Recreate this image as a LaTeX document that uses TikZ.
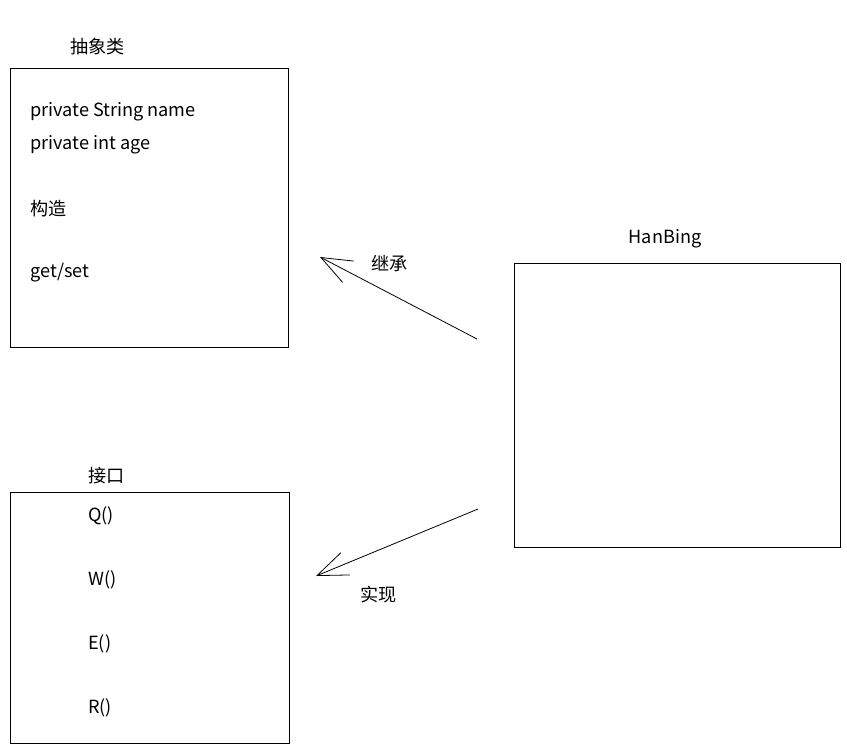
\documentclass[tikz,border=0pt]{standalone}
\usepackage{fontspec}
\setmainfont{Noto Sans CJK SC}
\usepackage{tikz}
\usetikzlibrary{arrows.meta, calc, positioning}

\begin{document}
\begin{tikzpicture}[x=0.75pt, y=-0.75pt,
	box/.style={draw, line width=0.75pt},
	txt/.style={anchor=west, inner sep=0pt, font=\fontsize{13.6}{16}\selectfont},
	link/.style={line width=0.6pt, -{Straight Barb[length=23pt, width=18pt, line width=0.6pt]}}]
	\useasboundingbox (0,0) rectangle (847,751);
	% Boxes
	\draw [box] (10,68) rectangle (288,347);
	\draw [box] (10,492) rectangle (289,743);
	\draw [box] (514,263) rectangle (840,547);
	% Abstract class
	\node [txt] (abs) at (70,47) {抽象类};
	\node [txt] (name) at (30,112) {private String name};
	\node [txt] (age) at (30,145) {private int age};
	\node [txt] (ctor) at (30,209) {构造};
	\node [txt] (gs) at (30,273) {get/set};
	% Interface
	\node [txt] (itf) at (88,476) {接口};
	\foreach \m/\y in {Q/516, W/580, E/644, R/708}
	{
		\node [txt] (\m) at (88,\y) {\m()};
	}
	% Class
	\node [txt, anchor=center] (hb) at (665,239) {HanBing};
	% Arrows
	\coordinate (a1) at (477,339);
	\coordinate (b1) at (320,257);
	\coordinate (a2) at (478,509);
	\coordinate (b2) at (316,576);
	\draw [link] (a1) -- (b1);
	\draw [link] (a2) -- (b2);
	\node [txt] (inh) at (371,263) {继承};
	\node [txt] (impl) at (360,595) {实现};
\end{tikzpicture}
\end{document}
